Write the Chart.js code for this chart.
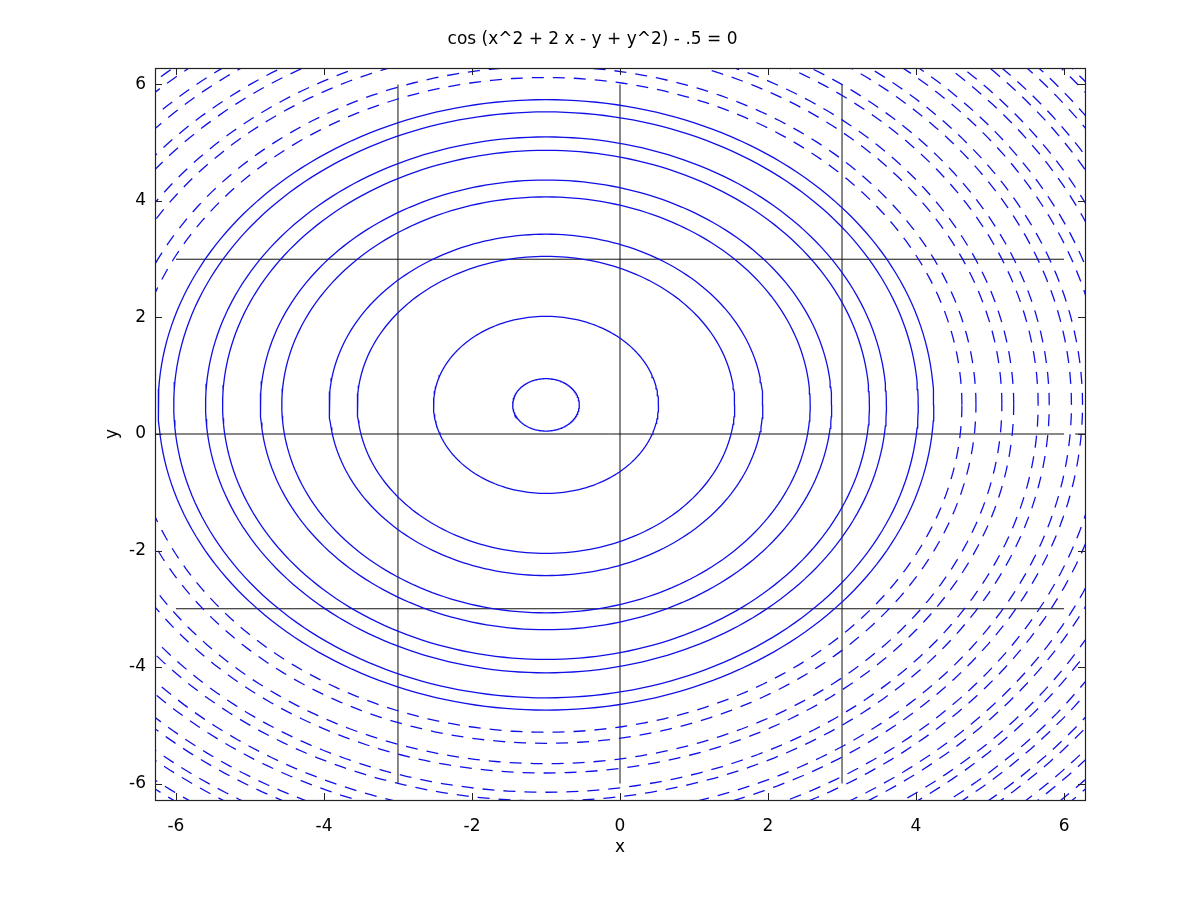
<!DOCTYPE html>
<html>
<head>
<meta charset="utf-8">
<script src="https://cdn.jsdelivr.net/npm/chart.js@4/dist/chart.umd.min.js"></script>
<style>
  html, body { margin: 0; padding: 0; background: #fff; }
  #wrap { width: 1200px; height: 902px; }
</style>
</head>
<body>
<div id="wrap"><canvas id="c" width="1200" height="902"></canvas></div>
<script>
// ---- data ----
const titleText = 'cos (x^2 + 2 x - y + y^2) - .5 = 0';
const xLimits = [-6.2832, 6.2832];
const yLimits = [-6.2832, 6.2832];
const xTicks = [-6, -4, -2, 0, 2, 4, 6];
const yTicks = [-6, -4, -2, 0, 2, 4, 6];
// contour rings: common centre and radii (data units)
const ringCenter = [-1, 0.5];
const ringRadii = [0.45, 1.52, 2.55, 2.93, 3.57, 3.86, 4.37, 4.60, 5.03, 5.24,
                   5.62, 5.81, 6.16, 6.32, 6.65, 6.80, 7.10, 7.25, 7.53, 7.67,
                   7.94, 8.07, 8.33, 8.45, 8.70, 8.82, 9.05, 9.16, 9.39, 9.50,
                   9.72, 9.83];
// outer rings appear broken into short pieces in the picture
const brokenFromRadius = 5.5;
// black reference lines
const vLineX = [-3, 0, 3];
const vLineSpan = [-6, 6];
const hLineY = [-3, 3];
const hLineSpan = [-6, 6];
const zeroLineSegments = [[-6.2832, 6.0], [6.15, 6.2832]];

// ---- build datasets ----
const BLUE = '#1010e6';
const datasets = [];
const N = 240;
ringRadii.forEach(r => {
  const pts = [];
  for (let i = 0; i <= N; i++) {
    const a = (i / N) * 2 * Math.PI;
    pts.push({ x: ringCenter[0] + r * Math.cos(a), y: ringCenter[1] + r * Math.sin(a) });
  }
  datasets.push({ data: pts, borderColor: BLUE, borderWidth: 1.3, pointRadius: 0, showLine: true, fill: false,
                  borderDash: r > brokenFromRadius ? [12, 9] : [] });
});
vLineX.forEach(x => {
  datasets.push({ data: [{ x: x, y: vLineSpan[0] }, { x: x, y: vLineSpan[1] }],
    borderColor: '#111', borderWidth: 1, pointRadius: 0, showLine: true });
});
hLineY.forEach(y => {
  datasets.push({ data: [{ x: hLineSpan[0], y: y }, { x: hLineSpan[1], y: y }],
    borderColor: '#111', borderWidth: 1, pointRadius: 0, showLine: true });
});
zeroLineSegments.forEach(s => {
  datasets.push({ data: [{ x: s[0], y: 0 }, { x: s[1], y: 0 }],
    borderColor: '#111', borderWidth: 1, pointRadius: 0, showLine: true });
});

const FONT = { family: '"DejaVu Sans", "Liberation Sans", Arial, sans-serif', size: 17 };

const framePlugin = {
  id: 'frame',
  afterDraw(chart) {
    const { ctx, chartArea: a, scales } = chart;
    ctx.save();
    ctx.strokeStyle = '#222';
    ctx.lineWidth = 1;
    const L = 7;
    ctx.beginPath();
    xTicks.forEach(v => {
      const px = Math.round(scales.x.getPixelForValue(v)) + 0.5;
      ctx.moveTo(px, a.bottom); ctx.lineTo(px, a.bottom - L);
      ctx.moveTo(px, a.top); ctx.lineTo(px, a.top + L);
    });
    yTicks.forEach(v => {
      const py = Math.round(scales.y.getPixelForValue(v)) + 0.5;
      ctx.moveTo(a.left, py); ctx.lineTo(a.left + L, py);
      ctx.moveTo(a.right, py); ctx.lineTo(a.right - L, py);
    });
    ctx.stroke();
    ctx.lineWidth = 1.2;
    ctx.strokeRect(Math.round(a.left) + 0.5, Math.round(a.top) + 0.5,
                   Math.round(a.right - a.left), Math.round(a.bottom - a.top));
    ctx.restore();
  }
};

new Chart(document.getElementById('c'), {
  type: 'scatter',
  data: { datasets: datasets },
  plugins: [framePlugin],
  options: {
    responsive: false,
    animation: false,
    events: [],
    layout: { padding: { left: 100, right: 115, top: 0, bottom: 42 } },
    plugins: {
      legend: { display: false },
      tooltip: { enabled: false },
      title: {
        display: true, text: titleText, color: '#000',
        font: Object.assign({}, FONT, { weight: 'normal' }),
        padding: { top: 29.8, bottom: 17.8 }
      }
    },
    scales: {
      x: {
        type: 'linear', min: xLimits[0], max: xLimits[1],
        grid: { display: false, drawTicks: false },
        border: { display: false },
        ticks: { color: '#000', font: FONT, padding: 16, maxRotation: 0,
                 callback: v => String(v) },
        afterBuildTicks: s => { s.ticks = xTicks.map(v => ({ value: v })); },
        afterFit: s => { s.height = 60; },
        title: { display: true, text: 'x', color: '#000', font: FONT, padding: { top: 0, bottom: 2 } }
      },
      y: {
        type: 'linear', min: yLimits[0], max: yLimits[1],
        grid: { display: false, drawTicks: false },
        border: { display: false },
        ticks: { color: '#000', font: FONT, padding: 9,
                 callback: v => String(v) },
        afterBuildTicks: s => { s.ticks = yTicks.map(v => ({ value: v })); },
        afterFit: s => { s.width = 55; },
        title: { display: true, text: 'y', color: '#000', font: FONT, padding: { top: 2, bottom: 0 } }
      }
    }
  }
});
</script>
</body>
</html>
